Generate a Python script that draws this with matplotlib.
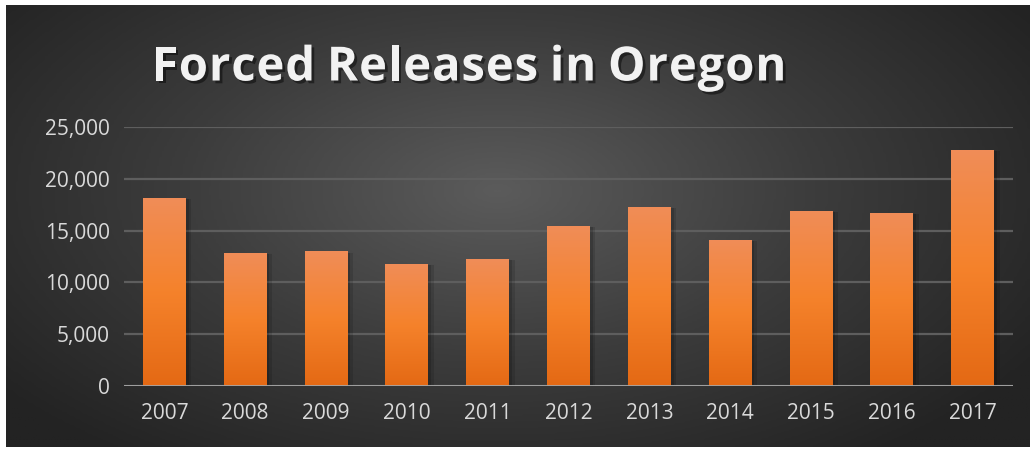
import numpy as np
import matplotlib
matplotlib.use("Agg")
import matplotlib.pyplot as plt
import matplotlib.patheffects as pe
from matplotlib.colors import LinearSegmentedColormap
from matplotlib.ticker import FuncFormatter

years = ["2007", "2008", "2009", "2010", "2011", "2012", "2013", "2014", "2015", "2016", "2017"]
releases = [18150, 12850, 13000, 11800, 12250, 15450, 17300, 14100, 16900, 16700, 22800]
yticks = [0, 5000, 10000, 15000, 20000, 25000]

fig = plt.figure(figsize=(10.34, 4.5), dpi=100, facecolor="white")

# dark panel with a soft radial gradient
bg = fig.add_axes([6 / 1034, 3 / 450, 1024 / 1034, 442 / 450])
bg.set_axis_off()
xx, yy = np.meshgrid(np.linspace(0, 1, 400), np.linspace(0, 1, 200))
r = np.sqrt(((xx - 0.48) / 0.62) ** 2 + ((yy - 0.42) / 0.75) ** 2)
r = np.clip(r, 0, 1)
bg_cmap = LinearSegmentedColormap.from_list("bg", ["#5b5b5b", "#3c3c3c", "#232323"])
bg.imshow(r, cmap=bg_cmap, aspect="auto", extent=[0, 1, 0, 1], origin="upper")
bg.set_xlim(0, 1)
bg.set_ylim(0, 1)

ax = fig.add_axes([124 / 1034, 64 / 450, 889 / 1034, 259 / 450])
ax.patch.set_alpha(0)
x = np.arange(len(years))
bars = ax.bar(x, releases, width=0.53, color="#f07f2e", zorder=3,
              path_effects=[pe.SimplePatchShadow(offset=(4, -1), shadow_rgbFace="black", alpha=0.12),
                            pe.SimplePatchShadow(offset=(2, -1), shadow_rgbFace="black", alpha=0.15),
                            pe.Normal()])

bar_cmap = LinearSegmentedColormap.from_list("bar", ["#e46914", "#f5822b", "#f08d58"])
grad = np.linspace(0, 1, 256).reshape(-1, 1)
for b in bars:
    im = ax.imshow(grad, cmap=bar_cmap, aspect="auto", origin="lower", zorder=4,
                   extent=[b.get_x(), b.get_x() + b.get_width(), 0, b.get_height()])
    im.set_clip_path(b)

ax.set_xlim(-0.5, len(years) - 0.5)
ax.set_ylim(0, 25000)
ax.set_xticks(x)
ax.set_xticklabels(years)
ax.set_yticks(yticks)
ax.yaxis.set_major_formatter(FuncFormatter(lambda v, p: f"{int(v):,}"))
ax.grid(axis="y", color="#5e5e5e", linewidth=1.6, zorder=0)
ax.axhline(0, color="#a6a6a6", linewidth=2, zorder=5)
for s in ax.spines.values():
    s.set_visible(False)
ax.tick_params(length=0, labelsize=15, labelcolor="#d9d9d9", pad=12)
ax.tick_params(axis="y", pad=10)
for lab in ax.get_xticklabels() + ax.get_yticklabels():
    lab.set_fontfamily("Open Sans")

# title, drawn with a little extra letter spacing
title = "Forced Releases in Oregon"
tx = 152 / 1034
renderer = fig.canvas.get_renderer()
for ch in title:
    t = fig.text(tx, 1 - 68 / 450, ch, fontsize=34, fontweight="bold",
                 family="Open Sans", color="#f2f2f2", ha="left", va="center",
                 path_effects=[pe.withSimplePatchShadow(offset=(2, -2), shadow_rgbFace="black", alpha=0.45)])
    w = t.get_window_extent(renderer).width if ch != " " else 10
    tx += (w + 0.9) / 1034

fig.savefig("out.png", dpi=100, facecolor="white")
